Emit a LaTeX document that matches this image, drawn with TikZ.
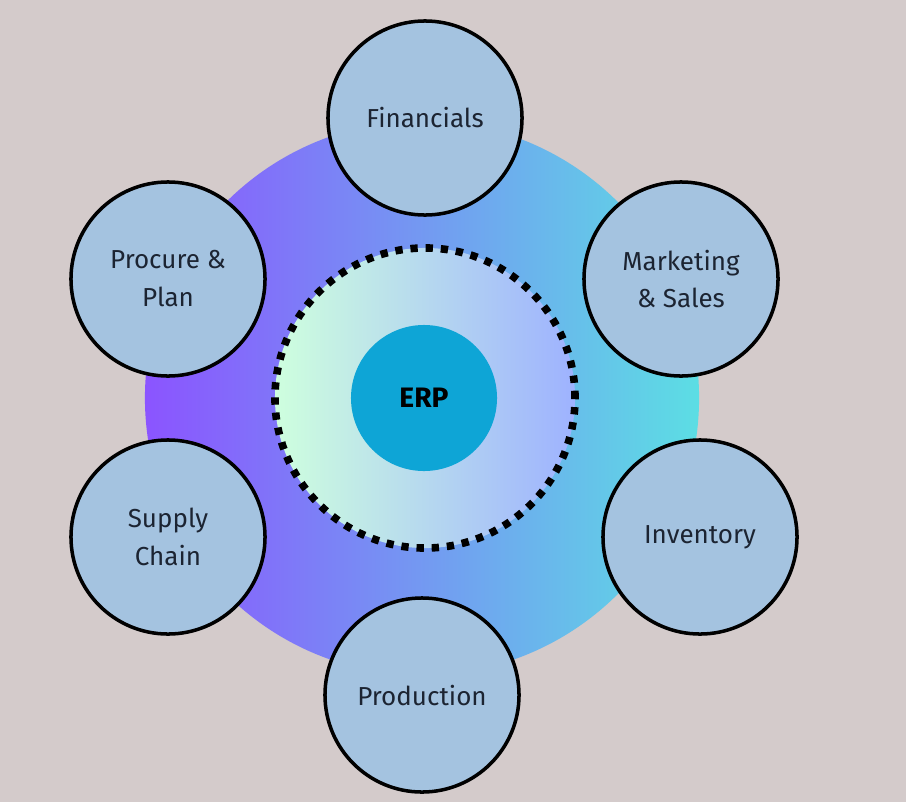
\documentclass[tikz,border=0pt]{standalone}
\usepackage{fontspec}
\setmainfont{Fira Sans}
\usetikzlibrary{positioning,backgrounds}

\definecolor{bgcol}{RGB}{212,203,203}
\definecolor{modfill}{RGB}{164,195,224}
\definecolor{modtext}{RGB}{28,36,50}
\definecolor{erpfill}{RGB}{14,165,214}
\definecolor{ringL}{RGB}{139,84,255}
\definecolor{ringM}{RGB}{126,188,246}
\definecolor{ringR}{RGB}{92,222,228}
\definecolor{coreL}{RGB}{206,255,222}
\definecolor{coreM}{RGB}{200,240,240}
\definecolor{coreR}{RGB}{158,178,255}

\begin{document}
\begin{tikzpicture}[
    x=0.025cm, y=-0.025cm,
    module/.style={circle, draw=black, line width=2.5pt, fill=modfill, minimum size=4.85cm, align=center, font=\fontsize{18.5}{27}\selectfont, text=modtext},
    erp/.style={circle, fill=erpfill, minimum size=3.65cm, font=\fontsize{20}{24}\selectfont\bfseries},
    ring/.style={circle, minimum size=13.85cm, left color=ringL, middle color=ringM, right color=ringR},
    core/.style={circle, minimum size=7.5cm, left color=coreL, middle color=coreM, right color=coreR},
    dots/.style={circle, draw=black, line width=5.4pt, dash pattern=on 5.2pt off 5.6pt, minimum size=7.5cm}
]
    \fill[bgcol] (0,0) rectangle (906,802);
    \useasboundingbox (0,0) rectangle (906,802);

    % hub
    \node[ring] (ring) at (422,398) {};
    \node[core] (core) at (425,398) {};
    \node[dots] (coreline) at (425,398) {};
    \node[erp] (erp) at (424,398) {ERP};

    % modules
    \node[module] (fin) at (425,118) {Financials};
    \node[module] (proc) at (168,279) {Procure \&\\Plan};
    \node[module] (mkt) at (681,279) {Marketing\\\& Sales};
    \node[module] (sup) at (168,537) {Supply\\Chain};
    \node[module] (inv) at (700,537) {Inventory};
    \node[module] (prod) at (422,695) {Production};
\end{tikzpicture}
\end{document}
